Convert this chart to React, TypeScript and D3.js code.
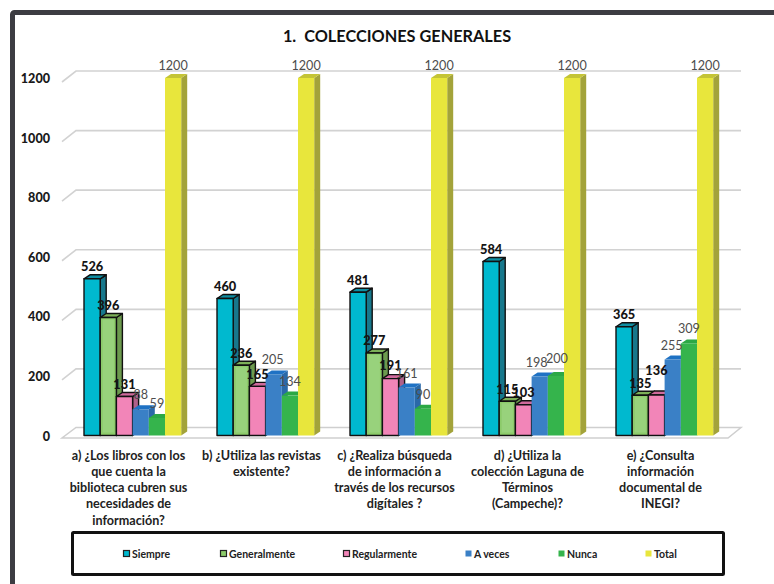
import React from "react";
import * as d3 from "d3";

const title = "1.  COLECCIONES GENERALES";
const questions = [
  ["a) ¿Los libros con los", "que cuenta la", "biblioteca cubren sus", "necesidades de", "información?"],
  ["b) ¿Utiliza las revistas", "existente?"],
  ["c) ¿Realiza búsqueda", "de información a", "través de los recursos", "digítales ?"],
  ["d) ¿Utiliza la", "colección Laguna de", "Términos", "(Campeche)?"],
  ["e) ¿Consulta", "información", "documental de", "INEGI?"],
];
const seriesNames = ["Siempre", "Generalmente", "Regularmente", "A veces", "Nunca", "Total"];
const siempre = [526, 460, 481, 584, 365];
const generalmente = [396, 236, 277, 115, 135];
const regularmente = [131, 165, 191, 103, 136];
const aVeces = [88, 205, 161, 198, 255];
const nunca = [59, 134, 90, 200, 309];
const total = [1200, 1200, 1200, 1200, 1200];
const seriesValues = [siempre, generalmente, regularmente, aVeces, nunca, total];
const yTicks = [0, 200, 400, 600, 800, 1000, 1200];
const frontColors = ["#00b9cf", "#8ccb6a", "#f285b8", "#3a80c6", "#35b44c", "#e8e63c"];
const sideColors = ["#17788c", "#6c9a4e", "#b0608a", "#2a69a8", "#2a9a40", "#a3a33a"];
const topColors = ["#0f8ea2", "#7cb058", "#d06a9c", "#1f72c4", "#2ba845", "#c4c436"];
// labels that sit away from their usual spot: "question-series" → [dx, lift]
const labelNudge: Record<string, [number, number]> = {
  "4-2": [0, 12],
  "3-3": [-3, 0],
  "3-4": [1, 3],
  "4-3": [-1, 0],
  "1-3": [-1, 0],
  "2-2": [0, 1],
};
const legendX = [123, 220, 343, 465, 558, 645];

const font = "Lato, 'Open Sans', sans-serif";
const dx = 6;
const dy = -4;

export default function App() {
  const y = d3.scaleLinear().domain([0, 1200]).range([435.5, 78]);
  const x0 = d3.scaleBand<number>().domain(d3.range(5)).range([66, 731]);
  const bw = 16.2;
  const x1 = d3.scaleBand<number>().domain(d3.range(6)).range([18, 18 + bw * 6]);
  return (
    <svg width={774} height={584} style={{ position: "absolute", left: 0, top: 0, background: "#fff" }} fontFamily={font}>
      <rect x={12.5} y={12.5} width={780} height={600} rx={2} fill="none" stroke="#3c3c42" strokeWidth={5} />
      <text x={397} y={42} textAnchor="middle" fontSize={16.3} fontWeight={700} fill="#111" xmlSpace="preserve">{title}</text>

      <path d={`M62,${y(0) + 2.5}L728,${y(0) + 2.5}L741,${y(0) - 8}L76,${y(0) - 8}Z`} fill="#fff" stroke="#cfcfcf" strokeWidth={1.5} />
      {yTicks.map((t) => (
        <g key={t}>
          {t > 0 && <path d={`M62,${y(t) + 4}L76,${y(t) - 7}L741,${y(t) - 7}`} fill="none" stroke="#d2d2d2" strokeWidth={1.6} />}
          <text x={50} y={y(t) + 5} textAnchor="end" fontSize={12.6} fontWeight={900} fill="#1a1a1a">{t}</text>
        </g>
      ))}

      {seriesValues.map((vals, s) =>
        vals.map((v, q) => {
          const bx = x0(q)! + x1(s)!;
          const by = y(v);
          const b0 = y(0);
          const stroked = s < 3;
          const st = stroked ? "#111" : "none";
          return (
            <g key={`${s}-${q}`} strokeWidth={1.4} stroke={st} strokeLinejoin="round">
              <path d={`M${bx + bw},${by}L${bx + bw + dx},${by + dy}L${bx + bw + dx},${b0 + dy}L${bx + bw},${b0}Z`} fill={sideColors[s]} />
              <path d={`M${bx},${by}L${bx + dx},${by + dy}L${bx + bw + dx},${by + dy}L${bx + bw},${by}Z`} fill={topColors[s]} />
              <rect x={bx} y={by} width={bw} height={b0 - by} fill={frontColors[s]} />
              {s === 1 && <rect x={bx + 2.5} y={by + 2} width={bw - 5} height={b0 - by - 5} fill="#98d27c" stroke="none" />}
            </g>
          );
        })
      )}
      {seriesValues.map((vals, s) =>
        vals.map((v, q) => {
          const bx = x0(q)! + x1(s)!;
          const dark = s < 3;
          const [ndx, nLift] = labelNudge[`${q}-${s}`] ?? [0, 0];
          const lift = (dark ? 7.5 : s === 5 ? 8.5 : 10) + nLift;
          return (
            <text key={`l${s}-${q}`} x={bx + bw / 2 + ndx} y={y(v) - lift} textAnchor="middle" fontSize={dark ? 12.8 : 12.6} fontWeight={dark ? 900 : 400} fill={dark ? "#151515" : "#4d4d4d"}>{v}</text>
          );
        })
      )}

      {questions.map((lines, q) => (
        <text key={q} textAnchor="middle" fontSize={12.6} fontWeight={700} fill="#222">
          {lines.map((l, i) => (
            <tspan key={i} x={x0(q)! + x0.bandwidth() / 2 - 4} y={459.5 + i * 16.3}>{l}</tspan>
          ))}
        </text>
      ))}

      <rect x={72.5} y={532.5} width={651} height={42} rx={1} fill="#fff" stroke="#111" strokeWidth={3} />
      {seriesNames.map((n, i) => (
        <g key={n}>
          <rect x={legendX[i] + 0.5} y={550.5} width={6} height={6} fill={frontColors[i]} stroke={i < 3 ? "#222" : "none"} strokeWidth={1.2} />
          <text x={legendX[i] + 9} y={557.5} fontSize={10.5} fontWeight={700} fill="#222">{n}</text>
        </g>
      ))}
    </svg>
  );
}
